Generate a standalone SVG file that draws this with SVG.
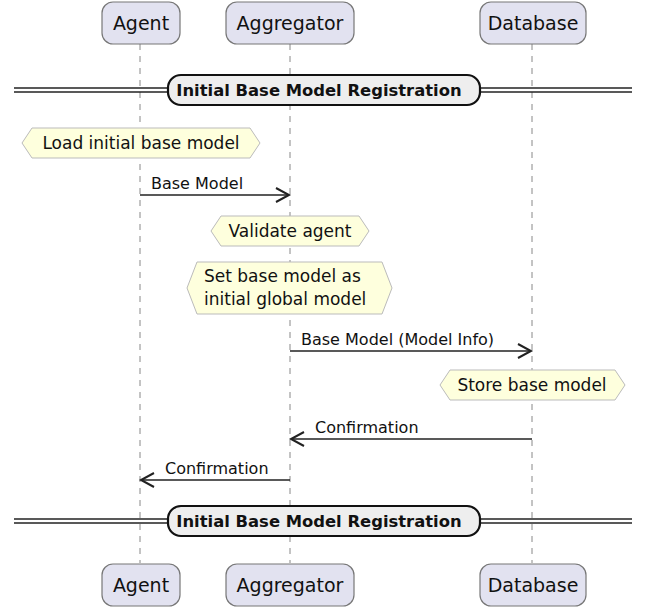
<svg xmlns="http://www.w3.org/2000/svg" width="646" height="609" viewBox="0 0 646 609">
<style>
text{font-family:"DejaVu Sans","Liberation Sans",sans-serif;fill:#111}
.part rect{fill:#E2E2F0;stroke:#777;stroke-width:1.2}
.part text{font-size:19px;text-anchor:middle}
.life{stroke:#888;stroke-width:1;stroke-dasharray:6 6}
.note polygon{fill:#FEFFDD;stroke:#BBB;stroke-width:1}
.note text{font-size:17px;text-anchor:middle}
.sep line{stroke:#222;stroke-width:1.5}
.sep rect{fill:#EEEEEE;stroke:#111;stroke-width:2.2}
.sep text{font-size:16.4px;font-weight:bold;text-anchor:middle}
.msg line{stroke:#222;stroke-width:1.5}
.msg polyline{fill:none;stroke:#222;stroke-width:2}
.msg text{font-size:16px}
</style>
<g id="lifelines">
<line class="life" x1="140" y1="44" x2="140" y2="563"/>
<line class="life" x1="290" y1="44" x2="290" y2="563"/>
<line class="life" x1="532" y1="44" x2="532" y2="563"/>
</g>
<g id="agent-top" class="part"><rect x="102" y="2" width="78" height="42" rx="11"/><text x="141" y="30">Agent</text></g>
<g id="aggregator-top" class="part"><rect x="226" y="2" width="128" height="42" rx="11"/><text x="290" y="30">Aggregator</text></g>
<g id="database-top" class="part"><rect x="480" y="2" width="106" height="42" rx="11"/><text x="533" y="30">Database</text></g>
<g id="agent-bottom" class="part"><rect x="102" y="564" width="78" height="42" rx="11"/><text x="141" y="592">Agent</text></g>
<g id="aggregator-bottom" class="part"><rect x="226" y="564" width="128" height="42" rx="11"/><text x="290" y="592">Aggregator</text></g>
<g id="database-bottom" class="part"><rect x="480" y="564" width="106" height="42" rx="11"/><text x="533" y="592">Database</text></g>
<g id="sep1" class="sep">
<line x1="14" y1="88" x2="632" y2="88"/><line x1="14" y1="92" x2="632" y2="92"/>
<rect x="168" y="75" width="312" height="30" rx="13"/>
<text x="319" y="96">Initial Base Model Registration</text>
</g>
<g id="note-load" class="note"><polygon points="22,143 32,128 250,128 260,143 250,158 32,158"/><text x="141" y="149">Load initial base model</text></g>
<g id="note-validate" class="note"><polygon points="211,231 221,216 359,216 369,231 359,246 221,246"/><text x="290" y="237">Validate agent</text></g>
<g id="note-set" class="note"><polygon points="187,288 197,262 382,262 392,288 382,314 197,314"/><text x="204" y="282" style="text-anchor:start">Set base model as</text><text x="204" y="305" style="text-anchor:start">initial global model</text></g>
<g id="note-store" class="note"><polygon points="440,385 450,370 615,370 625,385 615,400 450,400"/><text x="532" y="391">Store base model</text></g>
<g id="sep2" class="sep">
<line x1="14" y1="519" x2="632" y2="519"/><line x1="14" y1="523" x2="632" y2="523"/>
<rect x="168" y="506" width="312" height="30" rx="13"/>
<text x="319" y="527">Initial Base Model Registration</text>
</g>
<g id="connectors" class="msg">
<line x1="140" y1="195" x2="288" y2="195"/><polyline points="276,188 289,195 276,202"/>
<text x="151" y="189">Base Model</text>
<line x1="290" y1="351" x2="530" y2="351"/><polyline points="518,344 531,351 518,358"/>
<text x="301" y="345">Base Model (Model Info)</text>
<line x1="532" y1="439" x2="292" y2="439"/><polyline points="304,432 291,439 304,446"/>
<text x="315" y="433">Confirmation</text>
<line x1="290" y1="480" x2="142" y2="480"/><polyline points="154,473 141,480 154,487"/>
<text x="165" y="474">Confirmation</text>
</g>
</svg>
